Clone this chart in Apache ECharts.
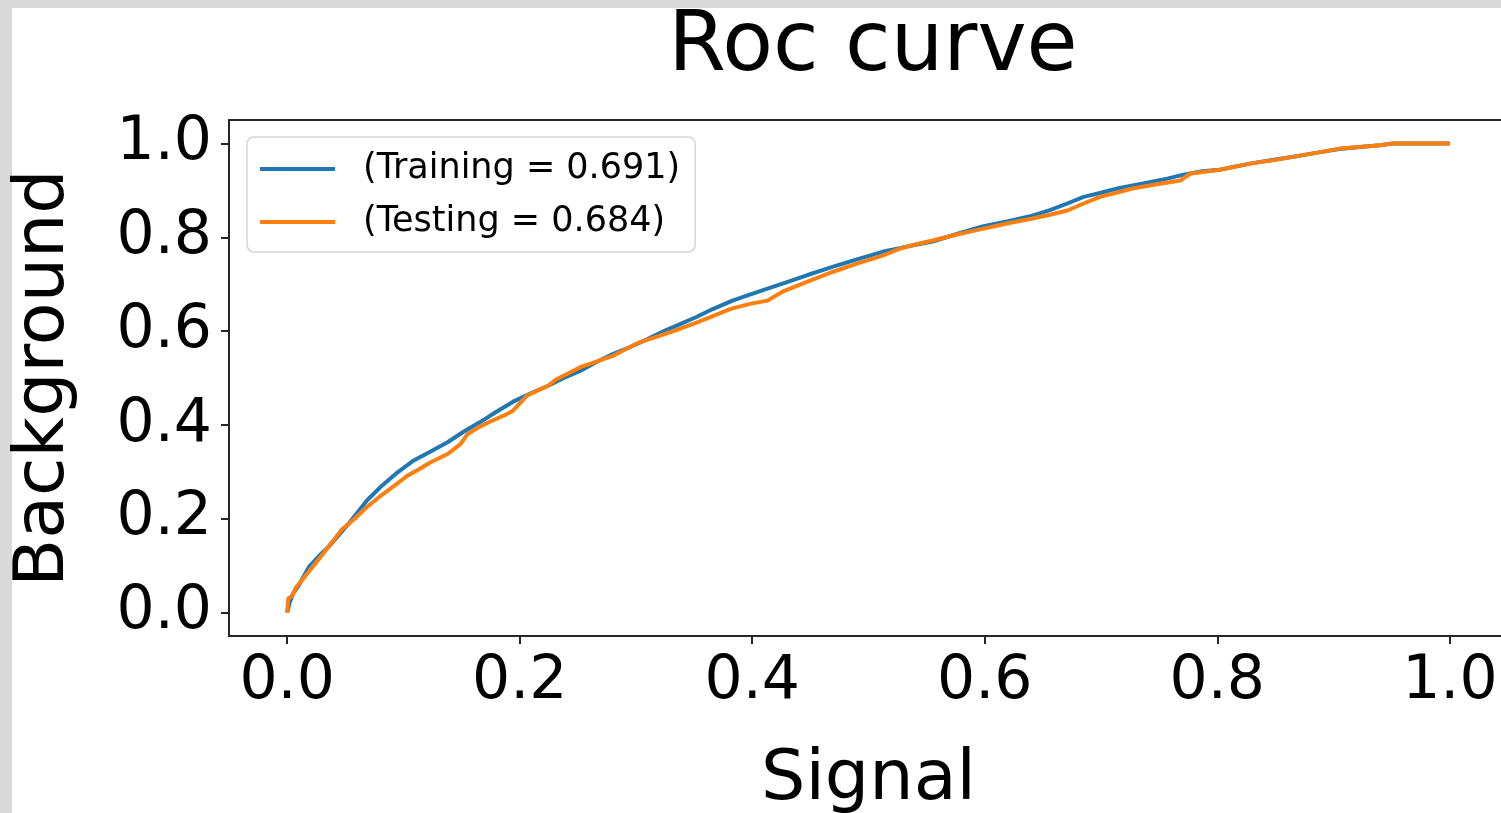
<!DOCTYPE html>
<html>
<head>
<meta charset="utf-8">
<title>Roc curve</title>
<script src="https://cdn.jsdelivr.net/npm/echarts@6/dist/echarts.min.js"></script>
<style>
  html, body { margin: 0; padding: 0; background: #ffffff; overflow: hidden; }
  .edge { position: absolute; background: #d9d9d9; }
  #chart { position: absolute; left: 0; top: 0; width: 1501px; height: 813px; }
</style>
</head>
<body>
<div class="edge" style="left:0;top:0;width:12px;height:813px"></div>
<div class="edge" style="left:0;top:0;width:1501px;height:8px"></div>
<div id="chart"></div>
<script>
// ROC curve: signal efficiency (x) against background (y)
const trainSignal = [0, 0.002, 0.005, 0.010, 0.019, 0.028, 0.036, 0.053, 0.069, 0.080, 0.095, 0.108, 0.123, 0.138, 0.152, 0.166, 0.180, 0.194, 0.210, 0.224, 0.238, 0.252, 0.266, 0.280, 0.295, 0.310, 0.324, 0.338, 0.352, 0.366, 0.383, 0.396, 0.410, 0.426, 0.447, 0.469, 0.490, 0.512, 0.533, 0.555, 0.576, 0.598, 0.620, 0.641, 0.656, 0.671, 0.685, 0.700, 0.714, 0.735, 0.757, 0.770, 0.785, 0.802, 0.828, 0.850, 0.871, 0.890, 0.905, 0.925, 0.940, 0.951, 1.0];
const trainBackground = [0, 0.020, 0.040, 0.058, 0.098, 0.122, 0.141, 0.190, 0.240, 0.267, 0.299, 0.323, 0.343, 0.363, 0.386, 0.406, 0.428, 0.449, 0.468, 0.483, 0.500, 0.515, 0.534, 0.551, 0.566, 0.583, 0.600, 0.615, 0.630, 0.647, 0.665, 0.676, 0.688, 0.701, 0.719, 0.737, 0.753, 0.769, 0.780, 0.791, 0.807, 0.823, 0.834, 0.846, 0.858, 0.872, 0.886, 0.895, 0.904, 0.914, 0.925, 0.933, 0.940, 0.944, 0.957, 0.966, 0.974, 0.982, 0.988, 0.993, 0.996, 1.0, 1.0];

const testSignal = [0, 0.001, 0.004, 0.008, 0.013, 0.020, 0.027, 0.037, 0.047, 0.058, 0.068, 0.080, 0.092, 0.103, 0.113, 0.123, 0.138, 0.149, 0.155, 0.166, 0.178, 0.189, 0.194, 0.206, 0.215, 0.224, 0.232, 0.242, 0.252, 0.266, 0.280, 0.292, 0.304, 0.320, 0.338, 0.352, 0.366, 0.382, 0.398, 0.413, 0.426, 0.447, 0.469, 0.490, 0.512, 0.527, 0.541, 0.555, 0.576, 0.598, 0.620, 0.641, 0.656, 0.671, 0.685, 0.699, 0.713, 0.727, 0.748, 0.768, 0.777, 0.802, 0.828, 0.850, 0.871, 0.890, 0.905, 0.925, 0.940, 0.951, 1.0];
const testBackground = [0, 0.030, 0.035, 0.055, 0.070, 0.092, 0.113, 0.145, 0.177, 0.200, 0.224, 0.248, 0.270, 0.291, 0.305, 0.320, 0.338, 0.359, 0.380, 0.397, 0.411, 0.423, 0.430, 0.462, 0.473, 0.483, 0.498, 0.510, 0.523, 0.535, 0.547, 0.563, 0.577, 0.590, 0.605, 0.618, 0.632, 0.648, 0.658, 0.665, 0.684, 0.705, 0.726, 0.744, 0.761, 0.776, 0.785, 0.793, 0.806, 0.818, 0.830, 0.840, 0.848, 0.857, 0.872, 0.886, 0.895, 0.904, 0.913, 0.921, 0.936, 0.944, 0.957, 0.965, 0.974, 0.982, 0.989, 0.993, 0.996, 1.0, 1.0];

const seriesNames = ['(Training = 0.691)', '(Testing = 0.684)'];
const xTicks = [0, 0.2, 0.4, 0.6, 0.8, 1.0];
const yTicks = [0, 0.2, 0.4, 0.6, 0.8, 1.0];

const zip = (xs, ys) => xs.map((x, i) => [x, ys[i]]);

const FONT = 'DejaVu Sans';
const INK = '#262626';

const chart = echarts.init(document.getElementById('chart'), null, { renderer: 'canvas' });

chart.setOption({
  animation: false,
  backgroundColor: 'transparent',
  title: {
    text: 'Roc curve',
    left: 868,
    textAlign: 'center',
    top: 2,
    textStyle: { fontFamily: FONT, fontSize: 83, fontWeight: 'normal', color: '#000' }
  },
  grid: {
    left: 229, top: 120, right: -7, bottom: 177,
    outerBoundsMode: 'none', containLabel: false,
    show: true, borderColor: INK, borderWidth: 2, backgroundColor: 'transparent'
  },
  legend: {
    left: 247, top: 137, orient: 'vertical',
    data: seriesNames,
    icon: 'rect', itemWidth: 75, itemHeight: 4, itemGap: 11,
    padding: [11, 15, 9, 13],
    backgroundColor: '#ffffff', borderColor: '#d4d4d4', borderWidth: 1.5, borderRadius: 7,
    textStyle: { fontFamily: FONT, fontSize: 35, color: '#000', lineHeight: 42, padding: [0, 0, 0, 23] }
  },
  xAxis: {
    type: 'value', min: -0.05, max: 1.05,
    name: 'Signal', nameLocation: 'middle', nameGap: 110,
    nameTextStyle: { fontFamily: FONT, fontSize: 70, color: '#000' },
    axisLine: { show: true, onZero: false, lineStyle: { color: INK, width: 2 } },
    axisTick: { show: true, inside: false, customValues: xTicks, length: 8, lineStyle: { color: INK, width: 2 } },
    axisLabel: { customValues: xTicks, margin: 16, fontFamily: FONT, fontSize: 60, color: '#000',
                 formatter: v => v.toFixed(1) },
    splitLine: { show: false }
  },
  yAxis: {
    type: 'value', min: -0.05, max: 1.05,
    name: 'Background', nameLocation: 'middle', nameGap: 149, nameRotate: 90,
    nameTextStyle: { fontFamily: FONT, fontSize: 70, color: '#000' },
    axisLine: { show: true, onZero: false, lineStyle: { color: INK, width: 2 } },
    axisTick: { show: true, inside: false, customValues: yTicks, length: 8, lineStyle: { color: INK, width: 2 } },
    axisLabel: { customValues: yTicks, margin: 17, fontFamily: FONT, fontSize: 60, color: '#000',
                 formatter: v => v.toFixed(1) },
    splitLine: { show: false }
  },
  series: [
    {
      name: seriesNames[0], type: 'line', data: zip(trainSignal, trainBackground),
      showSymbol: false, symbol: 'none', color: '#1f77b4',
      lineStyle: { width: 4, color: '#1f77b4' }
    },
    {
      name: seriesNames[1], type: 'line', data: zip(testSignal, testBackground),
      showSymbol: false, symbol: 'none', color: '#ff7f0e',
      lineStyle: { width: 4, color: '#ff7f0e' }
    }
  ]
});
</script>
</body>
</html>
